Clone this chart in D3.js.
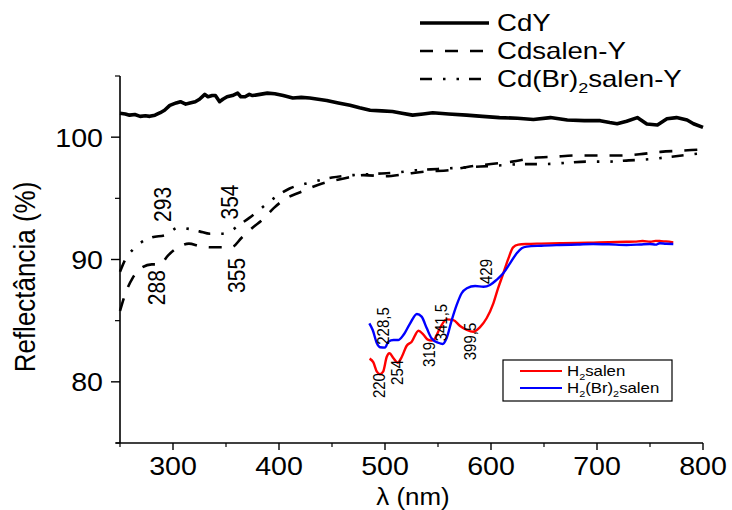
<!DOCTYPE html>
<html>
<head>
<meta charset="utf-8">
<script src="https://cdn.jsdelivr.net/npm/d3@7"></script>
<style>
  html, body { margin: 0; padding: 0; background: #fff; }
  svg { display: block; font-family: "Liberation Sans", Arial, sans-serif; }
</style>
</head>
<body>
<svg id="chart" width="732" height="510"></svg>
<script>
// ---- Main spectra: wavelength (nm) and reflectance (%) ----
const cdyNm  = [250,255,259,264,269,274,278,283,288,292,297,303,307,312,316,321,325,330,333,337,340,344,347,351,356,361,364,368,372,375,382,389,396,404,413,421,429,437,445,456,467,476,486,497,507,516,526,536,545,560,577,592,608,625,640,656,672,688,703,712,719,728,738,747,757,766,775,785,791,800];
const cdyVal = [101.95,101.9,101.8,101.85,101.7,101.75,101.7,101.8,102.0,102.2,102.6,102.8,102.9,102.7,102.8,102.9,103.1,103.5,103.3,103.4,103.4,102.9,103.1,103.3,103.4,103.6,103.3,103.3,103.5,103.4,103.5,103.6,103.55,103.4,103.2,103.25,103.2,103.1,103.0,102.8,102.6,102.4,102.2,102.15,102.1,101.95,101.8,101.9,102.0,101.9,101.8,101.7,101.6,101.55,101.45,101.6,101.4,101.35,101.35,101.2,101.1,101.3,101.6,101.07,101.0,101.5,101.6,101.4,101.1,100.8];

const salenNm  = [250,255,262,270,280,288,295,305,315,325,335,345,355,365,375,385,395,405,420,440,460,480,500,520,540,560,580,600,620,640,660,680,700,720,740,760,780,800];
const salenVal = [85.8,87.2,88.5,89.3,89.6,89.6,90.3,91.0,91.3,91.1,91.0,91.0,91.0,91.8,92.6,93.3,94.2,94.9,95.5,96.2,96.6,96.9,96.8,97.0,97.2,97.3,97.6,97.8,98.0,98.3,98.4,98.5,98.5,98.5,98.6,98.8,98.9,99.0];

const brSalenNm  = [250,255,262,270,280,293,305,315,325,335,345,354,362,372,382,395,410,430,450,470,490,510,530,550,570,590,610,630,650,670,690,710,730,750,770,790,800];
const brSalenVal = [89.0,90.0,90.8,91.4,91.8,92.0,92.6,92.5,92.3,92.1,92.1,92.3,92.8,93.4,94.1,95.0,95.8,96.3,96.7,96.9,97.0,97.1,97.3,97.4,97.5,97.6,97.7,97.8,97.8,97.9,98.0,98.0,98.1,98.2,98.4,98.6,98.7];

const seriesNames = ["CdY", "Cdsalen-Y", "Cd(Br)2salen-Y"];

// Peak labels on the main spectra (nm, reflectance position of the label centre)
const mainLabels = [
  { text: "293", nm: 291, val: 94.5 },
  { text: "354", nm: 354, val: 94.7 },
  { text: "288", nm: 285, val: 87.7 },
  { text: "355", nm: 360, val: 88.7 }
];

// ---- Inset: free ligand spectra (nm, relative reflectance %) ----
const h2salenNm  = [200,207,214,220,226,233,238,246,254,262,271,281,294,303,312,319,324,335,348,361,374,387,399.5,412,425,438,447,456,467,476,486,502,530,566,600,630,660,694,710,725,740,750,758,770,784];
const h2salenVal = [23,21,15.7,14.3,15.7,24,26,23.2,20.7,24,30,32.4,38.5,36.5,33.5,33,33.5,39.8,44.8,44.4,41.1,38.9,37.9,40.4,45.4,53.7,62,69.4,78.7,84.8,86.3,86.7,86.9,87.1,87.2,87.4,87.6,87.9,88.0,88.3,87.9,88.4,88.3,88.1,87.6];

const h2brSalenNm  = [199.5,206,214,220,229.6,236,246,255,265,278,291,300,310,319,332,340.6,348,358,367.5,377,387,403,419,431.5,444,457,470,483,492.5,502,530,566,600,630,660,694,720,739,750,758,770,784];
const h2brSalenVal = [42.6,38.9,31.5,29.3,29.1,32.4,33.3,33.3,36.1,42.6,47.8,46.3,39.8,34.3,31.8,31.1,34.3,44.4,52.8,59.3,62.1,63.3,62.9,63.9,66.7,70.4,75.9,81.5,84.3,85.2,85.7,86.1,86.4,86.7,86.5,86.1,86.4,86.7,86.3,87.1,86.8,86.7];

const insetNames = ["H2salen", "H2(Br)2salen"];

const insetLabels = [
  { text: "220",   nm: 218,   val: 8.0 },
  { text: "254",   nm: 253.7, val: 15.3 },
  { text: "228,5", nm: 226.7, val: 41.1 },
  { text: "319",   nm: 314,   val: 25.3 },
  { text: "341,5", nm: 338,   val: 43.0 },
  { text: "399,5", nm: 393,   val: 32.5 },
  { text: "429",   nm: 424,   val: 71.4 }
];

const xTicks = [300, 400, 500, 600, 700, 800];
const yTicks = [80, 90, 100];

// ---- Layout ----
const svg = d3.select("#chart");
const x = d3.scaleLinear().domain([250, 800]).range([120, 703]);
const y = d3.scaleLinear().domain([75, 105]).range([443, 76]);

// inset frame (ligand spectra)
const xi = d3.scaleLinear().domain([200, 800]).range([369.6, 681.6]);
const yi = d3.scaleLinear().domain([0, 100]).range([400, 220]);

// text helper: horizontally widened glyphs, optional rotation
function label(g, px, py, str, size, sx, anchor, rot) {
  const t = g.append("text")
    .attr("transform", `translate(${px},${py}) scale(${sx},1)` + (rot ? ` rotate(${rot})` : ""))
    .attr("text-anchor", anchor || "start")
    .style("font-size", size + "px")
    .attr("fill", "#000");
  return t;
}
function plainOrSub(t, str, subSize, subShift) {
  // renders "2" after H/) as subscript
  const parts = str.split(/(?<=[H\)])2/);
  parts.forEach((p, i) => {
    if (i > 0) {
      t.append("tspan").attr("dy", subShift).style("font-size", subSize + "px").text("2");
      t.append("tspan").attr("dy", -subShift).text(p);
    } else {
      t.append("tspan").text(p);
    }
  });
}

// ---- Axes ----
const axG = svg.append("g");
const xMinor = d3.range(250, 801, 50).filter(v => !xTicks.includes(v));
const yMinor = [75, 85, 95, 105];

axG.append("line").attr("x1", 116).attr("x2", 703).attr("y1", 443).attr("y2", 443)
  .attr("stroke", "#000").attr("stroke-width", 1.6);
axG.append("line").attr("x1", 120).attr("x2", 120).attr("y1", 76).attr("y2", 443)
  .attr("stroke", "#000").attr("stroke-width", 1.6);

xTicks.forEach(v => {
  axG.append("line").attr("x1", x(v)).attr("x2", x(v)).attr("y1", 443).attr("y2", 450)
    .attr("stroke", "#000").attr("stroke-width", 1.4);
  label(axG, x(v), 475, v, 26, 1.1, "middle").text(v);
});
xMinor.forEach(v => {
  axG.append("line").attr("x1", x(v)).attr("x2", x(v)).attr("y1", 443).attr("y2", 447)
    .attr("stroke", "#000").attr("stroke-width", 1.2);
});
yTicks.forEach(v => {
  axG.append("line").attr("x1", 111).attr("x2", 120).attr("y1", y(v)).attr("y2", y(v))
    .attr("stroke", "#000").attr("stroke-width", 1.4);
  label(axG, 103, y(v) + 9.5, v, 26, 1.1, "end").text(v);
});
yMinor.forEach(v => {
  axG.append("line").attr("x1", 115).attr("x2", 120).attr("y1", y(v)).attr("y2", y(v))
    .attr("stroke", "#000").attr("stroke-width", 1.2);
});

label(axG, 413, 505, "", 24, 1.08, "middle").text("λ (nm)");
label(axG, 35, 277, "", 26, 1.12, "middle", -90).text("Reflectância (%)");

// ---- Main curves ----
const lineSmooth = d3.line().x(d => x(d[0])).y(d => y(d[1])).curve(d3.curveMonotoneX);
const lineRaw = d3.line().x(d => x(d[0])).y(d => y(d[1]));
const mainStyles = [
  { w: 3.6, dash: null, gen: lineRaw },
  { w: 2.6, dash: "13,12", gen: lineSmooth },
  { w: 2.6, dash: "12,11,2.5,11,2.5,10", gen: lineSmooth }
];
const mainData = [
  d3.zip(cdyNm, cdyVal),
  d3.zip(salenNm, salenVal),
  d3.zip(brSalenNm, brSalenVal)
];
mainData.forEach((d, i) => {
  svg.append("path").datum(d).attr("d", mainStyles[i].gen)
    .attr("fill", "none").attr("stroke", "#000")
    .attr("stroke-width", mainStyles[i].w)
    .attr("stroke-linejoin", "round")
    .attr("stroke-dasharray", mainStyles[i].dash);
});

mainLabels.forEach(l => {
  label(svg, x(l.nm), y(l.val), "", 21, 1.13, "middle", -90)
    .attr("dominant-baseline", "central").text(l.text);
});

// ---- Main legend ----
const legG = svg.append("g");
const legRows = [23, 51, 79];
seriesNames.forEach((name, i) => {
  legG.append("line").attr("x1", 420).attr("x2", 489).attr("y1", legRows[i]).attr("y2", legRows[i])
    .attr("stroke", "#000").attr("stroke-width", mainStyles[i].w)
    .attr("stroke-dasharray", mainStyles[i].dash);
  const t = label(legG, 497, legRows[i] + 8, "", 23, 1.2, "start");
  plainOrSub(t, name, 15, 6);
});

// ---- Inset spectra ----
const lineI = d3.line().x(d => xi(d[0])).y(d => yi(d[1])).curve(d3.curveMonotoneX);
const insetColors = ["#ff0000", "#0000ff"];
const insetData = [d3.zip(h2salenNm, h2salenVal), d3.zip(h2brSalenNm, h2brSalenVal)];
insetData.forEach((d, i) => {
  svg.append("path").datum(d).attr("d", lineI)
    .attr("fill", "none").attr("stroke", insetColors[i])
    .attr("stroke-width", 2.4).attr("stroke-linejoin", "round");
});

insetLabels.forEach(l => {
  label(svg, xi(l.nm), yi(l.val), "", 15, 1.12, "middle", -90)
    .attr("dominant-baseline", "central").text(l.text);
});

// inset legend box
const ilg = svg.append("g");
ilg.append("rect").attr("x", 503).attr("y", 360).attr("width", 169).attr("height", 41)
  .attr("fill", "#fff").attr("stroke", "#000").attr("stroke-width", 1.2);
[371, 388].forEach((ry, i) => {
  ilg.append("line").attr("x1", 520).attr("x2", 562).attr("y1", ry).attr("y2", ry)
    .attr("stroke", insetColors[i]).attr("stroke-width", 2);
  const t = label(ilg, 567, ry + 5, "", 14, 1.2, "start");
  plainOrSub(t, insetNames[i], 9, 4);
});
</script>
</body>
</html>
